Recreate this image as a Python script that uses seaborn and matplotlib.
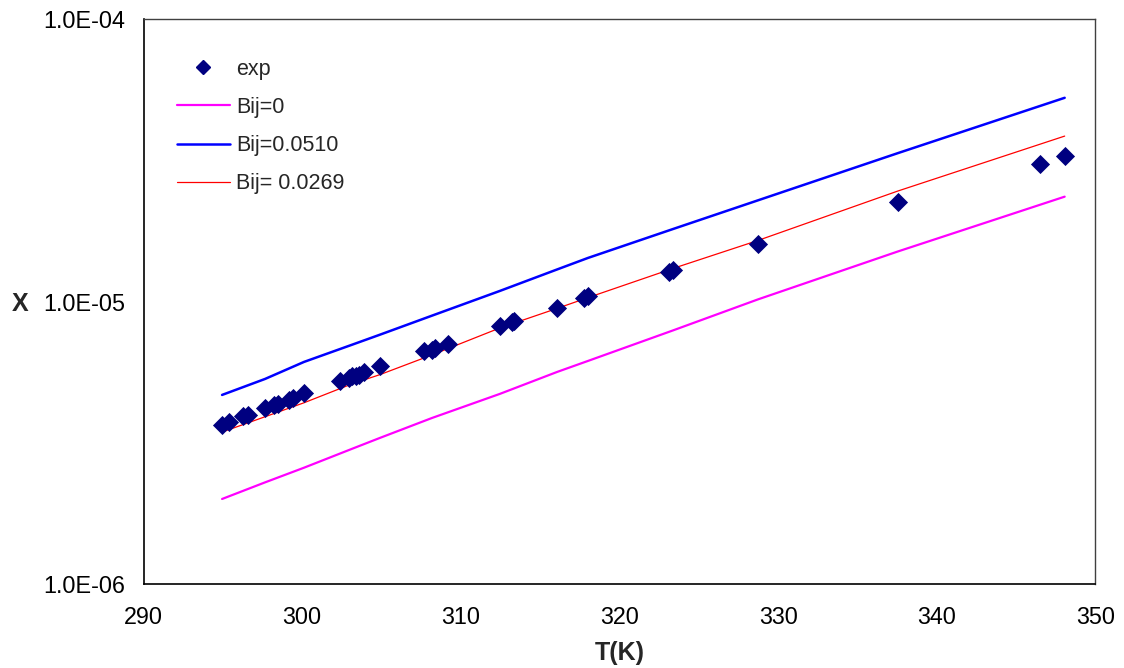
import numpy as np
import pandas as pd
import matplotlib
matplotlib.use("Agg")
import matplotlib.pyplot as plt
import seaborn as sns
from matplotlib.lines import Line2D
from matplotlib.ticker import NullLocator, FixedLocator, FixedFormatter

# ---- data ----
exp_T = [294.95, 295.39, 296.27, 296.58, 297.66, 298.22, 298.47, 299.17, 299.42, 300.11,
         302.38, 302.95, 303.14, 303.39, 303.58, 303.89, 304.90, 307.67, 308.18, 308.37,
         309.19, 312.46, 313.22, 313.35, 316.06, 317.76, 318.01, 323.11, 323.37, 328.72,
         337.54, 346.49, 348.06]
exp_X = [3.65e-6, 3.75e-6, 3.93e-6, 3.97e-6, 4.20e-6, 4.30e-6, 4.34e-6, 4.48e-6, 4.55e-6, 4.74e-6,
         5.23e-6, 5.36e-6, 5.45e-6, 5.45e-6, 5.49e-6, 5.63e-6, 5.91e-6, 6.68e-6, 6.73e-6, 6.84e-6,
         7.07e-6, 8.19e-6, 8.46e-6, 8.53e-6, 9.48e-6, 1.029e-5, 1.046e-5, 1.272e-5, 1.292e-5, 1.598e-5,
         2.25e-5, 3.07e-5, 3.27e-5]

line_T = [294.95, 297.66, 300.11, 303.14, 304.90, 308.18, 312.46, 316.06, 318.01, 323.37,
          328.72, 337.54, 348.06]
X_bij0 = [2.00e-6, 2.29e-6, 2.58e-6, 3.01e-6, 3.29e-6, 3.87e-6, 4.71e-6, 5.63e-6, 6.16e-6, 7.90e-6,
          1.017e-5, 1.503e-5, 2.35e-5]
X_bij0510 = [4.67e-6, 5.32e-6, 6.11e-6, 7.03e-6, 7.63e-6, 8.91e-6, 1.090e-5, 1.298e-5, 1.426e-5, 1.805e-5,
             2.28e-5, 3.35e-5, 5.26e-5]
X_bij0269 = [3.45e-6, 3.91e-6, 4.38e-6, 5.11e-6, 5.51e-6, 6.47e-6, 8.06e-6, 9.45e-6, 1.032e-5, 1.309e-5,
             1.644e-5, 2.46e-5, 3.85e-5]

series_names = ["Bij=0", "Bij=0.0510", "Bij= 0.0269"]
series_colors = ["#FF00FF", "#0000FF", "#FF0000"]
series_widths = [1.6, 1.8, 0.9]

x_ticks = [290, 300, 310, 320, 330, 340, 350]
y_ticks = [1e-6, 1e-5, 1e-4]
y_tick_labels = ["1.0E-06", "1.0E-05", "1.0E-04"]

# ---- frames ----
lines_df = pd.concat([
    pd.DataFrame({"T": line_T, "X": vals, "series": name})
    for name, vals in zip(series_names, [X_bij0, X_bij0510, X_bij0269])
], ignore_index=True)
exp_df = pd.DataFrame({"T": exp_T, "X": exp_X})

sns.set_theme(style="white")
plt.rcParams["font.family"] = ["Liberation Sans", "DejaVu Sans"]

fig = plt.figure(figsize=(11.24, 6.68), dpi=100)
ax = fig.add_axes([0.1277, 0.1257, 0.8469, 0.8459])

for name, col, lw in zip(series_names, series_colors, series_widths):
    sub = lines_df[lines_df["series"] == name]
    sns.lineplot(data=sub, x="T", y="X", color=col, linewidth=lw, ax=ax,
                 estimator=None, sort=False, legend=False)

sns.scatterplot(data=exp_df, x="T", y="X", marker="D", color="#000080",
                s=95, edgecolor="#000080", linewidth=0, ax=ax, legend=False, zorder=5)

ax.set_yscale("log")
ax.set_xlim(290, 350)
ax.set_ylim(1e-6, 1e-4)
ax.xaxis.set_major_locator(FixedLocator(x_ticks))
ax.yaxis.set_major_locator(FixedLocator(y_ticks))
ax.yaxis.set_major_formatter(FixedFormatter(y_tick_labels))
ax.yaxis.set_minor_locator(NullLocator())
ax.xaxis.set_minor_locator(NullLocator())

ax.tick_params(axis="both", which="major", labelsize=16.8, length=7, width=1,
               color="#808080", direction="out", labelcolor="black", pad=6)
ax.tick_params(axis="x", pad=9)

for side in ["left", "bottom"]:
    ax.spines[side].set_color("black")
    ax.spines[side].set_linewidth(1.2)
for side in ["top", "right"]:
    ax.spines[side].set_color("#404040")
    ax.spines[side].set_linewidth(1.0)
ax.grid(False)

ax.set_xlabel("T(K)", fontsize=18, fontweight="bold")
ax.set_ylabel("X", fontsize=18, fontweight="bold", rotation=0)
ax.xaxis.set_label_coords(0.5, -0.10)
ax.yaxis.set_label_coords(-0.13, 0.475)

handles = [
    Line2D([], [], linestyle="none", marker="D", color="#000080", markersize=7),
] + [
    Line2D([], [], color=c, linewidth=w) for c, w in zip(series_colors, series_widths)
]
labels = ["exp"] + series_names
ax.legend(handles, labels, loc="upper left", bbox_to_anchor=(0.0147, 0.964), frameon=False,
          fontsize=15.5, handlelength=2.45, handletextpad=0.3, labelspacing=0.8)

fig.savefig("out.png", dpi=100)
